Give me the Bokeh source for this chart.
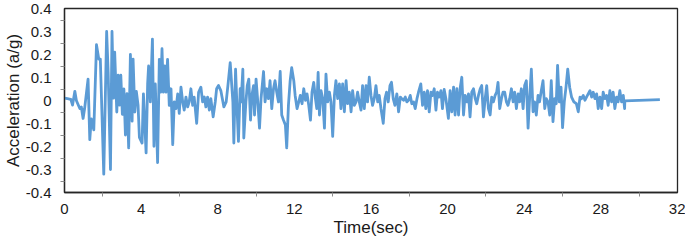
from bokeh.plotting import figure
from bokeh.models import FixedTicker, ColumnDataSource
from bokeh.embed import file_html
from bokeh.resources import INLINE

# ---- data (time in s, acceleration in g) ----
time_a = [0.00, 0.15, 0.33, 0.42, 0.54, 0.62, 0.68, 0.80, 0.88, 0.97, 1.05, 1.23, 1.32, 1.40,
          1.53, 1.67, 1.79, 1.87, 2.05, 2.20, 2.28, 2.40, 2.48, 2.56, 2.62, 2.73, 2.80, 2.87,
          2.94, 3.02, 3.10, 3.18, 3.26, 3.35, 3.44, 3.53, 3.58, 3.67, 3.75, 3.84, 3.91]
acc_a = [0.010, 0.008, 0.005, -0.020, 0.040, 0.000, -0.012, -0.035, -0.028, -0.078, -0.035, 0.093,
         -0.170, -0.080, -0.128, 0.243, 0.180, 0.180, -0.320, 0.300, 0.120, -0.300, 0.300, 0.010,
         0.210, -0.050, 0.110, -0.020, 0.110, -0.060, 0.050, -0.150, 0.030, -0.206, 0.200, -0.090,
         0.180, -0.050, 0.040, -0.020, -0.160]

time_b = [4.05, 4.12, 4.26, 4.34, 4.39, 4.48, 4.59, 4.67, 4.74, 4.86, 4.95, 5.02, 5.09, 5.16,
          5.23, 5.30, 5.38, 5.47, 5.56, 5.65, 5.73, 5.82, 5.91, 5.99, 6.08, 6.17, 6.25, 6.34,
          6.43, 6.51, 6.60, 6.69, 6.77, 6.90, 7.00, 7.12, 7.21, 7.30, 7.38, 7.47, 7.56, 7.64,
          7.76, 7.87, 7.94, 8.04, 8.16]
acc_b = [-0.185, 0.029, -0.228, 0.072, 0.150, -0.006, 0.267, -0.199, 0.072, -0.270, 0.179, 0.036,
         0.225, 0.036, 0.150, 0.036, 0.179, -0.021, 0.051, -0.192, -0.006, -0.035, 0.029, -0.056,
         0.058, -0.006, -0.042, 0.015, -0.028, -0.006, 0.051, -0.021, 0.015, -0.099, 0.036, 0.058,
         -0.006, 0.015, -0.028, 0.015, -0.042, 0.008, -0.071, -0.006, 0.051, 0.065, 0.043]

time_c = [8.32, 8.44, 8.53, 8.65, 8.79, 8.84, 8.93, 9.01, 9.08, 9.17, 9.22, 9.31, 9.36, 9.47,
          9.54, 9.62, 9.71, 9.78, 9.87, 9.92, 10.00, 10.09, 10.18, 10.26, 10.39, 10.47, 10.56,
          10.65, 10.73, 10.82, 10.91, 10.99, 11.08, 11.17, 11.26, 11.34, 11.43, 11.53, 11.60,
          11.69, 11.78, 11.86, 11.97, 12.04, 12.14, 12.23, 12.31, 12.40, 12.49, 12.58, 12.66,
          12.75, 12.84, 12.92, 13.01, 13.10, 13.17, 13.24, 13.31, 13.39, 13.48, 13.57, 13.65,
          13.74, 13.83, 13.91, 14.00, 14.09, 14.17, 14.26, 14.35, 14.43, 14.52, 14.61, 14.70,
          14.78, 14.87, 14.96, 15.04, 15.13, 15.22, 15.30, 15.39, 15.48, 15.56, 15.65, 15.74,
          15.82, 15.91, 16.00, 16.08, 16.17, 16.26, 16.35, 16.43, 16.52, 16.64, 16.73, 16.81,
          16.90, 16.99, 17.07, 17.16, 17.25, 17.35, 17.44, 17.53, 17.61, 17.70, 17.79, 17.87,
          17.96, 18.05, 18.13, 18.22, 18.31, 18.40, 18.48, 18.60, 18.69, 18.78, 18.86, 18.95,
          19.04, 19.13, 19.21, 19.30, 19.39, 19.47, 19.56, 19.65, 19.73, 19.82, 19.91]
acc_c = [-0.028, -0.006, 0.065, 0.165, -0.006, -0.185, 0.136, -0.042, -0.178, 0.051, -0.006,
         0.136, -0.163, -0.006, 0.065, 0.093, -0.085, 0.022, 0.065, -0.063, 0.093, -0.006, -0.120,
         0.008, 0.126, -0.006, 0.051, 0.008, 0.086, -0.035, 0.051, 0.086, 0.036, -0.006, 0.126,
         -0.063, -0.085, -0.106, -0.206, -0.021, 0.086, 0.143, 0.086, 0.022, -0.035, -0.006, 0.022,
         -0.014, 0.051, 0.001, 0.029, -0.021, -0.085, 0.036, 0.079, 0.008, -0.035, 0.122, -0.063,
         0.043, 0.008, -0.120, 0.115, -0.006, 0.036, -0.006, -0.156, 0.022, 0.086, 0.008, 0.072,
         -0.035, 0.072, -0.049, 0.086, -0.014, 0.036, -0.049, 0.043, -0.021, -0.006, 0.036, -0.006,
         -0.042, 0.065, -0.035, 0.065, -0.006, 0.101, 0.022, -0.021, 0.008, 0.065, -0.006, 0.022,
         -0.035, -0.099, 0.008, 0.036, -0.006, 0.065, 0.079, 0.008, -0.021, 0.029, -0.049, 0.015,
         0.008, 0.001, 0.015, -0.006, 0.001, 0.022, -0.014, -0.006, -0.035, 0.008, 0.036, 0.072,
         -0.021, 0.036, -0.035, 0.043, -0.049, 0.036, 0.022, 0.051, -0.042, 0.036, 0.015, 0.043,
         -0.035, 0.048, 0.008]

time_d = [20.04, 20.13, 20.22, 20.31, 20.39, 20.48, 20.57, 20.65, 20.74, 20.83, 20.91, 21.00,
          21.09, 21.17, 21.26, 21.35, 21.44, 21.52, 21.61, 21.70, 21.78, 21.87, 21.96, 22.04,
          22.13, 22.22, 22.30, 22.39, 22.48, 22.56, 22.63, 22.72, 22.81, 22.89, 22.98, 23.07,
          23.15, 23.24, 23.33, 23.42, 23.50, 23.59, 23.68, 23.76, 23.85, 23.94, 24.02, 24.11,
          24.20, 24.28, 24.37, 24.46, 24.54, 24.63, 24.72, 24.80, 24.89, 24.98, 25.07, 25.15,
          25.24, 25.33, 25.41, 25.50, 25.59, 25.67, 25.74, 25.83, 25.92, 26.00, 26.09, 26.18,
          26.27, 26.37, 26.47, 26.59, 26.72, 26.82, 26.91, 26.99, 27.08, 27.17, 27.25, 27.34,
          27.43, 27.52, 27.60, 27.69, 27.78, 27.86, 27.95, 28.04, 28.12, 28.21, 28.30, 28.38,
          28.47, 28.56, 28.64, 28.73, 28.82, 28.90, 28.99, 29.08, 29.17, 29.24, 29.25, 31.08]
acc_d = [-0.078, 0.043, -0.049, 0.058, -0.063, 0.051, -0.063, 0.051, 0.101, -0.063, 0.022, -0.006,
         0.029, -0.071, 0.036, 0.051, 0.008, -0.014, 0.022, 0.051, 0.065, -0.071, 0.008, 0.065,
         -0.035, -0.063, 0.015, -0.006, 0.022, 0.036, 0.079, -0.035, 0.008, 0.036, 0.036, -0.006,
         -0.021, 0.008, 0.051, -0.006, 0.036, -0.035, 0.029, -0.006, 0.051, -0.035, 0.065, 0.086,
         -0.120, 0.008, 0.136, -0.049, -0.006, -0.063, 0.022, -0.006, 0.043, 0.086, -0.035, 0.008,
         -0.006, -0.063, 0.086, -0.092, 0.008, -0.014, 0.153, -0.006, 0.058, -0.118, -0.006, 0.058,
         0.136, 0.058, 0.015, -0.006, -0.014, -0.049, 0.015, 0.008, 0.022, 0.001, 0.015, 0.029,
         0.043, 0.015, 0.036, 0.008, 0.029, -0.035, 0.015, -0.035, 0.036, 0.008, 0.022, -0.021,
         0.043, -0.006, 0.036, -0.035, 0.015, -0.006, 0.043, -0.006, 0.022, -0.035, -0.002, 0.004]

x_ticks = [0, 4, 8, 12, 16, 20, 24, 28, 32]
x_tick_labels = ["0", "4", "8", "12", "16", "20", "24", "28", "32"]
y_ticks = [-0.4, -0.3, -0.2, -0.1, 0.0, 0.1, 0.2, 0.3, 0.4]
y_tick_labels = ["-0.4", "-0.3", "-0.2", "-0.1", "0", "0.1", "0.2", "0.3", "0.4"]
x_minor = [2, 6, 10, 14, 18, 22, 26, 30]
y_minor = [-0.35, -0.25, -0.15, -0.05, 0.05, 0.15, 0.25, 0.35]

times = time_a + time_b + time_c + time_d
accs = acc_a + acc_b + acc_c + acc_d
src = ColumnDataSource(data=dict(t=times, a=accs))

p = figure(width=685, height=241, output_backend="svg", toolbar_location=None,
           x_range=(0, 32), y_range=(-0.4, 0.4),
           min_border_left=63, min_border_right=8, min_border_top=8, min_border_bottom=49)
p.background_fill_color = "white"
p.border_fill_color = "white"
p.outline_line_color = "#262626"
p.outline_line_width = 1.3
p.xgrid.visible = False
p.ygrid.visible = False

p.line("t", "a", source=src, line_color="#5B9BD5", line_width=2.8, line_join="round")

FONT = "Liberation Sans"
for ax, ticks, minor, labels in ((p.xaxis[0], x_ticks, x_minor, x_tick_labels),
                                 (p.yaxis[0], y_ticks, y_minor, y_tick_labels)):
    ax.ticker = FixedTicker(ticks=ticks, minor_ticks=minor)
    ax.major_label_overrides = {t: l for t, l in zip(ticks, labels)}
    ax.major_tick_out = 0
    ax.major_tick_in = 0
    ax.minor_tick_out = 4
    ax.minor_tick_in = 0
    ax.minor_tick_line_color = "#8c8c8c"
    ax.axis_line_color = "#262626"
    ax.axis_line_width = 1.3
    ax.major_label_text_font = FONT
    ax.major_label_text_font_size = "15px"
    ax.major_label_text_color = "#1a1a1a"
    ax.axis_label_text_font = FONT
    ax.axis_label_text_font_size = "17px"
    ax.axis_label_text_font_style = "normal"
    ax.axis_label_text_color = "#1a1a1a"

p.xaxis.axis_label = "Time(sec)"
p.yaxis.axis_label = "Acceleration (a/g)"
p.xaxis.major_label_standoff = 7
p.xaxis.axis_label_standoff = 1
p.yaxis.major_label_standoff = 9
p.yaxis.axis_label_standoff = 0

open("out.html", "w").write(file_html(p, INLINE))
